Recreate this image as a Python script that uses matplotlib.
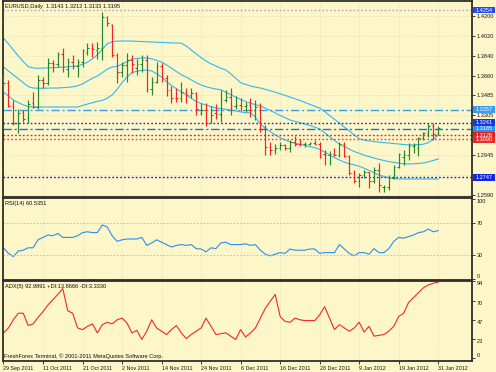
import matplotlib
matplotlib.use('Agg')
import matplotlib.pyplot as plt
import matplotlib.transforms as mtransforms
from matplotlib.patches import Rectangle
import numpy as np

plt.rcParams['font.family'] = ['Liberation Sans', 'DejaVu Sans']

# --- data (one value per daily bar, 29 Sep 2011 .. 31 Jan 2012) ---
opens = [1.3560, 1.3600, 1.3390, 1.3235, 1.3340, 1.3280, 1.3420, 1.3385, 1.3620, 1.3600,
         1.3780, 1.3765, 1.3860, 1.3720, 1.3785, 1.3750, 1.3785, 1.3880, 1.3915, 1.3895,
         1.3910, 1.4190, 1.4120, 1.3850, 1.3700, 1.3760, 1.3800, 1.3730, 1.3770, 1.3800,
         1.3540, 1.3610, 1.3750, 1.3640, 1.3530, 1.3465, 1.3460, 1.3520, 1.3490, 1.3510,
         1.3330, 1.3350, 1.3240, 1.3330, 1.3320, 1.3440, 1.3470, 1.3390, 1.3400, 1.3390,
         1.3400, 1.3350, 1.3380, 1.3180, 1.3020, 1.2990, 1.3010, 1.3040, 1.3010, 1.3070,
         1.3050, 1.3045, 1.3050, 1.3055, 1.3050, 1.2960, 1.2945, 1.2960, 1.2945, 1.3050,
         1.2940, 1.2790, 1.2716, 1.2765, 1.2795, 1.2715, 1.2815, 1.2660, 1.2665, 1.2745,
         1.2840, 1.2935, 1.2950, 1.3030, 1.3010, 1.3100, 1.3150, 1.3210, 1.3143]
highs = [1.3670, 1.3620, 1.3440, 1.3360, 1.3355, 1.3444, 1.3515, 1.3669, 1.3655, 1.3820,
         1.3800, 1.3880, 1.3912, 1.3820, 1.3845, 1.3810, 1.3900, 1.3955, 1.3960, 1.3965,
         1.4240, 1.4200, 1.4125, 1.3867, 1.3790, 1.3870, 1.3850, 1.3810, 1.3845, 1.3845,
         1.3655, 1.3790, 1.3780, 1.3665, 1.3570, 1.3555, 1.3610, 1.3550, 1.3550, 1.3520,
         1.3420, 1.3420, 1.3390, 1.3410, 1.3535, 1.3530, 1.3550, 1.3480, 1.3460, 1.3430,
         1.3460, 1.3440, 1.3420, 1.3220, 1.3065, 1.3050, 1.3070, 1.3050, 1.3080, 1.3120,
         1.3090, 1.3070, 1.3065, 1.3080, 1.3066, 1.2990, 1.2985, 1.3010, 1.3066, 1.3066,
         1.2950, 1.2814, 1.2787, 1.2814, 1.2800, 1.2841, 1.2877, 1.2679, 1.2769, 1.2859,
         1.2967, 1.2994, 1.3057, 1.3060, 1.3111, 1.3160, 1.3237, 1.3237, 1.3212]
lows = [1.3520, 1.3385, 1.3215, 1.3145, 1.3245, 1.3237, 1.3372, 1.3360, 1.3555, 1.3580,
        1.3700, 1.3740, 1.3700, 1.3650, 1.3720, 1.3655, 1.3740, 1.3850, 1.3830, 1.3810,
        1.3800, 1.4110, 1.3830, 1.3597, 1.3655, 1.3610, 1.3690, 1.3665, 1.3700, 1.3515,
        1.3485, 1.3600, 1.3610, 1.3480, 1.3420, 1.3425, 1.3425, 1.3420, 1.3460, 1.3310,
        1.3310, 1.3210, 1.3240, 1.3270, 1.3250, 1.3430, 1.3310, 1.3360, 1.3345, 1.3340,
        1.3290, 1.3260, 1.3160, 1.2950, 1.2945, 1.2960, 1.2990, 1.2990, 1.2980, 1.3030,
        1.3030, 1.3020, 1.3040, 1.3040, 1.2922, 1.2860, 1.2860, 1.2940, 1.2931, 1.2929,
        1.2770, 1.2697, 1.2661, 1.2742, 1.2652, 1.2697, 1.2616, 1.2616, 1.2634, 1.2735,
        1.2832, 1.2859, 1.2904, 1.2970, 1.2940, 1.3080, 1.3110, 1.3084, 1.3133]
closes = [1.3600, 1.3390, 1.3235, 1.3330, 1.3275, 1.3410, 1.3385, 1.3620, 1.3600, 1.3780,
          1.3765, 1.3860, 1.3745, 1.3785, 1.3750, 1.3785, 1.3890, 1.3915, 1.3900, 1.3910,
          1.4195, 1.4140, 1.3850, 1.3700, 1.3760, 1.3800, 1.3770, 1.3770, 1.3800, 1.3540,
          1.3610, 1.3750, 1.3640, 1.3530, 1.3465, 1.3460, 1.3520, 1.3490, 1.3510, 1.3360,
          1.3350, 1.3240, 1.3310, 1.3320, 1.3440, 1.3470, 1.3390, 1.3400, 1.3390, 1.3400,
          1.3350, 1.3380, 1.3180, 1.3020, 1.2990, 1.3010, 1.3040, 1.3010, 1.3070, 1.3050,
          1.3045, 1.3050, 1.3055, 1.3050, 1.2935, 1.2945, 1.2960, 1.2945, 1.3050, 1.2940,
          1.2790, 1.2716, 1.2765, 1.2795, 1.2715, 1.2815, 1.2680, 1.2665, 1.2745, 1.2840,
          1.2960, 1.2950, 1.3030, 1.3035, 1.3100, 1.3150, 1.3210, 1.3140, 1.3195]

bb_upper = [1.4002, 1.3950, 1.3895, 1.3840, 1.3790, 1.3745, 1.3732, 1.3730, 1.3731, 1.3733,
            1.3735, 1.3737, 1.3740, 1.3743, 1.3746, 1.3750, 1.3765, 1.3785, 1.3815, 1.3850,
            1.3900, 1.3950, 1.3968, 1.3974, 1.3975, 1.3975, 1.3974, 1.3972, 1.3970, 1.3968,
            1.3966, 1.3964, 1.3962, 1.3960, 1.3958, 1.3957, 1.3956, 1.3930, 1.3895, 1.3860,
            1.3825, 1.3795, 1.3770, 1.3750, 1.3730, 1.3715, 1.3680, 1.3640, 1.3600, 1.3585,
            1.3570, 1.3560, 1.3552, 1.3540, 1.3527, 1.3514, 1.3500, 1.3485, 1.3471, 1.3455,
            1.3440, 1.3422, 1.3405, 1.3388, 1.3372, 1.3340, 1.3305, 1.3270, 1.3237, 1.3200,
            1.3165, 1.3130, 1.3095, 1.3082, 1.3076, 1.3070, 1.3065, 1.3060, 1.3057, 1.3052,
            1.3048, 1.3043, 1.3040, 1.3040, 1.3042, 1.3046, 1.3060, 1.3090, 1.3129]
bb_middle = [1.3741, 1.3705, 1.3670, 1.3635, 1.3600, 1.3565, 1.3552, 1.3550, 1.3550, 1.3551,
             1.3552, 1.3552, 1.3555, 1.3558, 1.3563, 1.3572, 1.3590, 1.3615, 1.3640, 1.3660,
             1.3690, 1.3722, 1.3740, 1.3748, 1.3765, 1.3790, 1.3810, 1.3818, 1.3822, 1.3822,
             1.3815, 1.3800, 1.3786, 1.3760, 1.3730, 1.3700, 1.3672, 1.3650, 1.3625, 1.3600,
             1.3580, 1.3563, 1.3552, 1.3543, 1.3536, 1.3515, 1.3492, 1.3470, 1.3450, 1.3430,
             1.3415, 1.3402, 1.3390, 1.3370, 1.3350, 1.3328, 1.3305, 1.3285, 1.3264, 1.3252,
             1.3240, 1.3228, 1.3215, 1.3200, 1.3183, 1.3150, 1.3115, 1.3080, 1.3048, 1.3025,
             1.3002, 1.2980, 1.2965, 1.2947, 1.2935, 1.2922, 1.2910, 1.2900, 1.2890, 1.2883,
             1.2876, 1.2870, 1.2868, 1.2870, 1.2873, 1.2877, 1.2887, 1.2900, 1.2913]
bb_lower = [1.3516, 1.3480, 1.3444, 1.3420, 1.3400, 1.3385, 1.3381, 1.3381, 1.3381, 1.3381,
            1.3381, 1.3381, 1.3381, 1.3381, 1.3381, 1.3381, 1.3395, 1.3408, 1.3420, 1.3432,
            1.3440, 1.3460, 1.3490, 1.3540, 1.3600, 1.3650, 1.3690, 1.3703, 1.3710, 1.3714,
            1.3705, 1.3680, 1.3650, 1.3610, 1.3575, 1.3545, 1.3516, 1.3490, 1.3460, 1.3430,
            1.3412, 1.3398, 1.3385, 1.3372, 1.3366, 1.3360, 1.3354, 1.3345, 1.3337, 1.3330,
            1.3327, 1.3290, 1.3225, 1.3190, 1.3160, 1.3130, 1.3105, 1.3085, 1.3066, 1.3055,
            1.3045, 1.3035, 1.3025, 1.3015, 1.3000, 1.2975, 1.2950, 1.2925, 1.2904, 1.2885,
            1.2870, 1.2860, 1.2848, 1.2830, 1.2810, 1.2790, 1.2770, 1.2755, 1.2745, 1.2738,
            1.2734, 1.2733, 1.2733, 1.2733, 1.2733, 1.2733, 1.2733, 1.2733, 1.2733]

rsi = [39, 32, 28, 35, 36, 39, 39, 49, 52, 55,
       54, 57, 52, 52, 52, 54, 58, 59, 58, 58,
       67.5, 65, 54, 47, 49, 50, 50, 50, 52, 42,
       45, 49, 46, 43, 40, 42, 43, 42, 43, 38,
       37.5, 34, 39, 38, 45, 46, 43, 43, 43, 44,
       42, 43, 36, 31, 29, 31, 33, 32, 37.5, 36,
       36, 36, 37.5, 37.5, 32, 33, 33, 33, 43, 37.5,
       32, 29, 33, 33, 31, 38, 33, 33, 38, 47,
       52, 51, 53, 55, 58, 59, 62.5, 59, 60.5]

adx = [31, 37, 47, 55, 55, 40, 42, 50, 57, 65,
       71.5, 78, 85, 58, 55, 37, 35, 39, 42, 31,
       41, 44, 42, 47, 49, 43, 31, 34, 23, 33,
       47, 37, 33, 29, 35, 40, 31, 24, 29, 33,
       37, 49, 39, 29, 30, 31, 27, 23, 35, 26,
       31, 37, 49, 61, 69.5, 78, 51, 45, 44, 49,
       47, 46, 46, 46, 53, 63, 49, 35, 41, 37,
       33, 37, 44, 32, 39, 27, 28, 29, 33, 39,
       51, 55, 68, 74, 80, 86, 89.5, 91.5, 93]

date_labels = ['29 Sep 2011', '11 Oct 2011', '21 Oct 2011', '2 Nov 2011', '14 Nov 2011',
               '24 Nov 2011', '6 Dec 2011', '16 Dec 2011', '28 Dec 2011', '9 Jan 2012',
               '19 Jan 2012', '31 Jan 2012']
date_bars = [0, 8, 16, 24, 32, 40, 48, 56, 64, 72, 80, 88]

price_ticks = [1.4200, 1.4020, 1.3840, 1.3660, 1.3485, 1.3305, 1.3125, 1.2945, 1.2765, 1.2590]
# labels hidden behind the price boxes on the right
price_tick_labels = ['1.4200', '1.4020', '1.3840', '1.3660', '1.3485', '1.3305', '', '1.2945', '', '1.2590']

# horizontal levels with their line colour/style and price-box colour
levels = [1.4254, 1.3357, 1.3241, 1.3185, 1.3128, 1.3090, 1.2747]
level_colors = ['#a9a9c4', '#3a9fe6', '#2424d6', '#1c74e0', '#e02222', '#e84040', '#1818e0']
level_styles = ['dot', 'dashdot', 'dot', 'dashdot', 'dot', 'dot', 'dot']
box_colors = ['#2448f2', '#3c9cf2', '#1637e4', '#2e8cf0', '#ec1c1c', '#ec2a2a', '#1426e4']

bg = '#fcf6c8'
frame = '#2e2e2e'
W, H = 496, 372


def box(left, top, right, bottom):
    return [left / W, 1 - bottom / H, (right - left) / W, (bottom - top) / H]


fig = plt.figure(figsize=(W / 100, H / 100), dpi=100, facecolor=bg)
ax = fig.add_axes(box(3, 1, 472, 197))
ax_rsi = fig.add_axes(box(3, 198, 472, 280), sharex=ax)
ax_adx = fig.add_axes(box(3, 281, 472, 361), sharex=ax)

idx = np.arange(len(opens))
up = '#23892a'
down = '#f22424'
cols = [up if c >= o else down for o, c in zip(opens, closes)]

for a in (ax, ax_rsi, ax_adx):
    a.set_facecolor(bg)
    for s in a.spines.values():
        s.set_color(frame)
        s.set_linewidth(1.3)
    a.yaxis.tick_right()
    a.tick_params(axis='y', length=2, width=0.6, pad=1.5, labelsize=4.1, colors='#1a1a1a')
    a.set_xticks(date_bars)
    a.grid(True, axis='x', color='#d6cfa6', ls=(0, (1, 2)), lw=0.5)

ax.set_xlim(-0.1, 94.84)

# --- main price panel ---
ax.vlines(idx, lows, highs, colors=cols, lw=0.85, zorder=3)
ax.hlines(opens, idx - 0.32, idx, colors=cols, lw=0.8, zorder=3)
ax.hlines(closes, idx, idx + 0.32, colors=cols, lw=0.8, zorder=3)

for band in (bb_upper, bb_middle, bb_lower):
    ax.plot(idx, band, color='#33b8f0', lw=0.8, zorder=2)

for p, c, st in zip(levels, level_colors, level_styles):
    ls = (0, (1.2, 1.6)) if st == 'dot' else (0, (6, 2, 1.5, 2))
    ax.axhline(p, color=c, ls=ls, lw=1.0, zorder=2)

ax.set_ylim(1.2571, 1.4335)
ax.set_yticks(price_ticks)
ax.set_yticklabels(price_tick_labels)
ax.grid(True, axis='y', color='#d6cfa6', ls=(0, (1, 2)), lw=0.5)
ax.tick_params(axis='x', length=0, labelbottom=False)

# price boxes on the right axis
trans = mtransforms.blended_transform_factory(ax.transAxes, ax.transData)
px_y = (1.4335 - 1.2571) / 196.0
bx0 = (473 - 3) / 469.0
bw = 22 / 469.0
for p, c in zip(levels, box_colors):
    ax.add_patch(Rectangle((bx0, p - 3.2 * px_y), bw, 6.4 * px_y, transform=trans,
                           fc=c, ec='none', clip_on=False, zorder=6))
    ax.text(bx0 + bw / 2, p, '%.4f' % p, transform=trans, ha='center', va='center',
            fontsize=4.0, color='white', clip_on=False, zorder=7)

ax.text(0.004, 0.97, 'EURUSD,Daily  1.3143 1.3212 1.3133 1.3195', transform=ax.transAxes,
        ha='left', va='center', fontsize=4.1, color='#101010')

# --- RSI panel ---
ax_rsi.plot(idx, rsi, color='#2c8ff0', lw=0.8)
for lvl in (70, 30):
    ax_rsi.axhline(lvl, color='#b9b9b9', ls=(0, (2, 2)), lw=0.6)
ax_rsi.set_ylim(-1.25, 101.25)
ax_rsi.set_yticks([0, 30, 70, 100])
ax_rsi.set_yticklabels(['0', '30', '70', '100'])
rl = ax_rsi.get_yticklabels()
rl[0].set_va('bottom')
rl[3].set_va('top')
ax_rsi.tick_params(axis='x', length=0, labelbottom=False)
ax_rsi.text(0.004, 0.93, 'RSI(14) 60.5351', transform=ax_rsi.transAxes,
            ha='left', va='center', fontsize=4.1, color='#101010')

# --- ADX panel ---
ax_adx.plot(idx, adx, color='#f02a2a', lw=0.8)
ax_adx.set_ylim(-3.3, 94.3)
ax_adx.set_yticks([0, 23, 47, 70, 94])
ax_adx.set_yticklabels(['0', '23', '47', '70', '94'])
for i, lb in enumerate(ax_adx.get_yticklabels()):
    lb.set_va('bottom' if i == 0 else 'top')
ax_adx.set_xticklabels(date_labels, ha='left')
ax_adx.tick_params(axis='x', length=2.5, width=0.6, pad=1.0, labelsize=3.9, colors='#1a1a1a')
ax_adx.text(0.004, 0.93, 'ADX(5) 92.9891 +DI:13.8666 -DI:3.3330', transform=ax_adx.transAxes,
            ha='left', va='center', fontsize=4.1, color='#101010')
ax_adx.text(0.002, 0.06, 'FreshForex Terminal, \u00a9 2001-2011 MetaQuotes Software Corp.',
            transform=ax_adx.transAxes, ha='left', va='center', fontsize=4.1, color='#101010')

fig.savefig('out.png', dpi=100, facecolor=bg)
